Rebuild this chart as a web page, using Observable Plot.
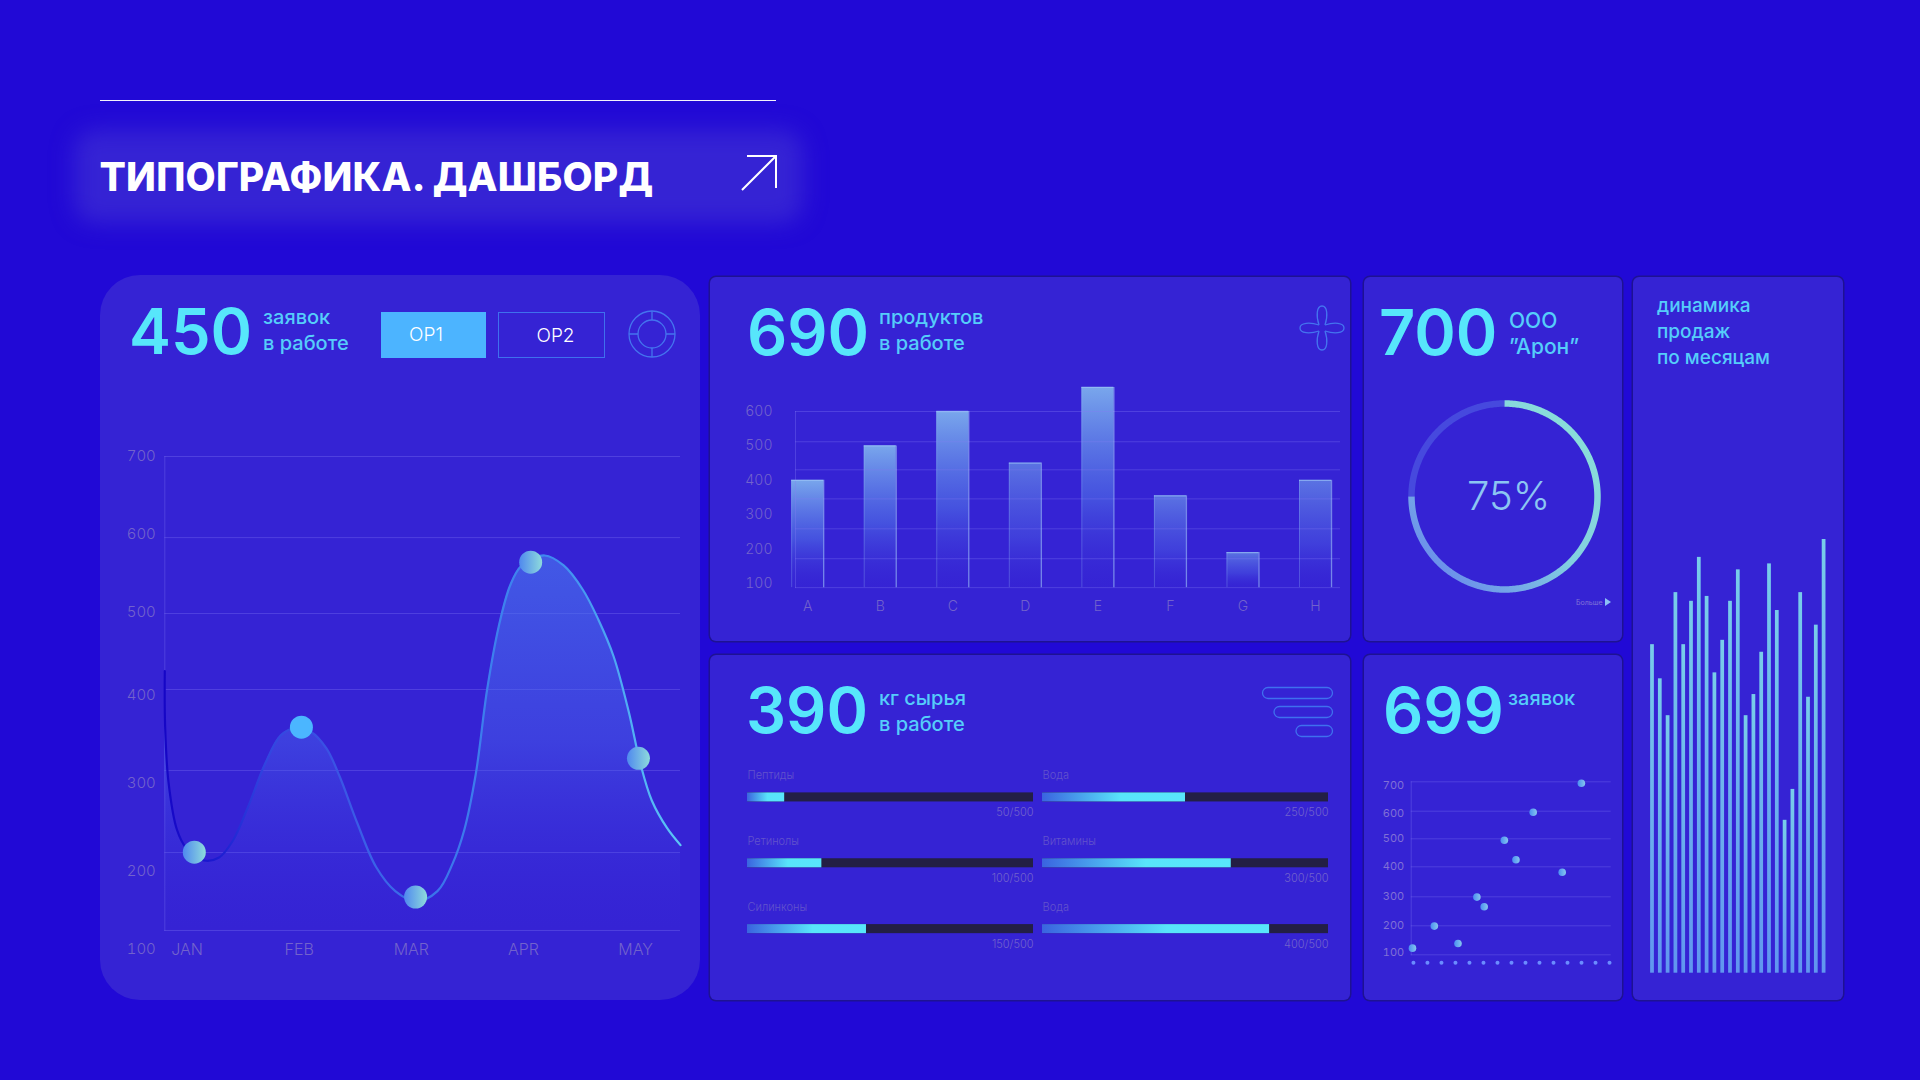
<!DOCTYPE html>
<html lang="ru">
<head>
<meta charset="utf-8">
<title>Типографика. Дашборд</title>
<script src="https://cdn.jsdelivr.net/npm/d3@7"></script>
<script src="https://cdn.jsdelivr.net/npm/@observablehq/plot@0.6"></script>
<style>
  html,body{margin:0;padding:0;background:#2109d6;}
  body{position:relative;width:1920px;height:1080px;overflow:hidden;font-family:Inter,Roboto,sans-serif;}
  .abs{position:absolute;}
  .panel{position:absolute;background:#3523d4;box-sizing:border-box;border-radius:6px;
         box-shadow:0 0 0 1.5px rgba(30,20,140,.9);}
  .t{position:absolute;white-space:nowrap;line-height:1;transform:translateY(-50%);}
  .big{font-size:63px;font-weight:600;color:#57e6fb;letter-spacing:0;}
  .sub{font-size:20px;font-weight:500;color:#55cdfa;}
  svg.plot-chart{position:absolute;overflow:visible;max-width:none;}
</style>
</head>
<body>
<svg width="0" height="0" style="position:absolute">
  <defs>
    <linearGradient id="curveStroke" x1="0" x2="1" y1="0" y2="0">
      <stop offset="0" stop-color="#1606c6"/><stop offset="0.1" stop-color="#1c1bd0"/>
      <stop offset="0.2" stop-color="#3246e0"/><stop offset="0.32" stop-color="#3a52e4"/>
      <stop offset="0.48" stop-color="#3a70ea"/><stop offset="0.75" stop-color="#3f8af0"/>
      <stop offset="1" stop-color="#5cc6f6"/>
    </linearGradient>
    <linearGradient id="curveFill" x1="0" x2="0" y1="0" y2="1">
      <stop offset="0" stop-color="#4a7af0" stop-opacity=".62"/>
      <stop offset="0.5" stop-color="#4a6ef0" stop-opacity=".38"/>
      <stop offset="1" stop-color="#3a35e0" stop-opacity="0"/>
    </linearGradient>
    <linearGradient id="dotFill" x1="0" x2="1" y1="0" y2="0">
      <stop offset="0" stop-color="#4f88ef"/><stop offset="1" stop-color="#8edbdc"/>
    </linearGradient>
    <linearGradient id="barBright" x1="0" x2="0" y1="0" y2="1">
      <stop offset="0" stop-color="#7fb2ee" stop-opacity=".92"/>
      <stop offset="0.55" stop-color="#4f6fe6" stop-opacity=".62"/>
      <stop offset="1" stop-color="#3a30d8" stop-opacity=".04"/>
    </linearGradient>
    <linearGradient id="barDim" x1="0" x2="0" y1="0" y2="1">
      <stop offset="0" stop-color="#5f7ce4" stop-opacity=".9"/>
      <stop offset="0.6" stop-color="#4650e0" stop-opacity=".62"/>
      <stop offset="1" stop-color="#3a30d8" stop-opacity=".04"/>
    </linearGradient>
    <linearGradient id="miniBar" x1="0" x2="0" y1="0" y2="1">
      <stop offset="0" stop-color="#78cdea"/><stop offset="1" stop-color="#6096f0"/>
    </linearGradient>
    <linearGradient id="progress" x1="0" x2="1" y1="0" y2="0">
      <stop offset="0" stop-color="#3a63e0"/><stop offset="0.55" stop-color="#58e4fa"/>
      <stop offset="1" stop-color="#58e6fb"/>
    </linearGradient>
    <linearGradient id="ringDone" x1="1" x2="0" y1="0" y2="1">
      <stop offset="0" stop-color="#8ce2d8"/><stop offset="0.5" stop-color="#82cfe0"/><stop offset="1" stop-color="#6379ef"/>
    </linearGradient>
    <linearGradient id="scatterDot" x1="0" x2="1" y1="0" y2="0">
      <stop offset="0" stop-color="#4a8ef2"/><stop offset="1" stop-color="#86c6ee"/>
    </linearGradient>
  </defs>
</svg>
<script>
// ---- Data ----
const months = ["JAN", "FEB", "MAR", "APR", "MAY"];
const monthIndex = [0, 1, 2, 3, 4];
const requestTicks = [100, 200, 300, 400, 500, 600, 700];
const requestGrid = [124.4, 221.6, 314.8, 407.2, 498.8, 596, 700];
const curveMonth = [-0.198,-0.195,-0.165,-0.089,-0.004,0.15,0.286,0.406,0.542,0.697,0.834,0.95,1.106,1.243,1.361,1.516,1.686,1.857,2.038,2.233,2.368,2.472,2.574,2.676,2.779,2.881,2.984,3.189,3.358,3.528,3.666,3.803,3.938,4.042,4.144,4.281,4.40];
const curveValue = [429.5,364.8,301.7,247.2,226.1,212.5,215.9,234.4,272.7,322.7,354.5,362.5,358.5,339.8,308,255.7,205.1,174.9,162,174.9,209,247.2,310.2,407.2,482.9,534.6,560.3,573.1,560.3,529.5,491.9,447.3,381.8,322.7,280.7,249.2,230];
const markerMonth = [0.065, 1.02, 2.038, 3.064, 4.025];
const markerValue = [221.9, 364, 167.3, 564.5, 328.6];

const productCats = ["A","B","C","D","E","F","G","H"];
const productValues = [400,500,600,450,670,355,190,400];
const productTicks = [100,200,300,400,500,600];
const productGrid = [88,172,259,346,430.5,512,600];

const ringShare = 75;

const rawLeftNames = ["Пептиды","Ретинолы","Силинконы"];
const rawLeftLabels = ["50/500","100/500","150/500"];
const rawLeftShown = [65,130,208];
const rawRightNames = ["Вода","Витамины","Вода"];
const rawRightLabels = ["250/500","300/500","400/500"];
const rawRightShown = [250,330,397];
const rawMax = 500;

const scatterTicks = [100,200,300,400,500,600,700];
const scatterX = [-0.07,1.49,3.18,4.53,5.05,6.49,7.32,8.55,10.62,11.99];
const scatterY = [123,199,139,299,265.5,495,425,596,382,695];
const scatterSlots = [0,1,2,3,4,5,6,7,8,9,10,11,12,13,14];

const salesValues = [606,543,475,702,606,686,767,695,554,614,686,744,475,514,592,755,669,282,339,702,509,642,800];

// ---- Page helpers ----
const GRID = "rgba(135,125,245,.33)";
const TICK = "#7262cc";
function panel(l,t,r,b,radius,noBorder){
  const d=document.createElement("div");d.className="panel";
  d.style.cssText=`left:${l}px;top:${t}px;width:${r-l}px;height:${b-t}px;`+(radius?`border-radius:${radius}px;`:"")+(noBorder?"box-shadow:none;":"");
  document.body.appendChild(d);
}
function text(s,x,y,cls,css){
  const d=document.createElement("div");d.className="t "+(cls||"");d.textContent=s;
  d.style.cssText=`left:${x}px;top:${y}px;`+(css||"");
  document.body.appendChild(d);return d;
}
function place(svg,l,t){
  svg.classList.add("plot-chart");
  svg.style.left=l+"px";svg.style.top=t+"px";
  document.body.appendChild(svg);
}
function icon(markup,l,t,w,h){
  const d=document.createElement("div");d.className="abs";
  d.style.cssText=`left:${l}px;top:${t}px;width:${w}px;height:${h}px;`;
  d.innerHTML=`<svg width="${w}" height="${h}" viewBox="0 0 ${w} ${h}" fill="none" style="display:block;overflow:visible">${markup}</svg>`;
  document.body.appendChild(d);
}

// ---- Header ----
const rule=document.createElement("div");rule.className="abs";
rule.style.cssText="left:100px;top:99.5px;width:676px;height:1.5px;background:#fff;opacity:.95";
document.body.appendChild(rule);
const glow=document.createElement("div");glow.className="abs";
glow.style.cssText="left:74px;top:130px;width:729px;height:93px;background:#3523d4;border-radius:22px;filter:blur(11px)";
document.body.appendChild(glow);
text("ТИПОГРАФИКА. ДАШБОРД",99.5,176,"","font-size:39px;font-weight:800;color:#fff;letter-spacing:.2px;");
icon('<path d="M1 35 L35 1 M6 1 H35 V33" stroke="#fff" stroke-width="2"/>',741,155,36,36);

// ---- Panels ----
panel(100,275,700,1000,40,true);
panel(710,277,1350,641);
panel(1364,277,1622,641);
panel(1633,277,1843,1000);
panel(710,655,1350,1000);
panel(1364,655,1622,1000);

// ---- Panel 1: requests ----
text("450",129,331,"big");
text("заявок",263,317,"sub");
text("в работе",263,343,"sub");
text("OP1",381,335,"","width:105px;text-align:center;height:46px;line-height:46px;background:#4cb4ff;color:#fff;font-size:19px;font-weight:300;padding-right:15px;box-sizing:border-box;");
text("OP2",498,335,"","width:107px;text-align:center;height:46px;line-height:46px;box-sizing:border-box;border:1.5px solid #3f70ee;color:#fff;font-size:19px;font-weight:300;padding-left:8px;");
icon('<g stroke="#4474ef" stroke-width="1.3"><circle cx="24" cy="24" r="23"/><circle cx="24" cy="24" r="14"/><path d="M24 1V10M24 38V47M1 24H10M38 24H47"/></g>',628,310,48,48);

const curve = curveMonth.map((m,i)=>({m,v:curveValue[i]}));
const markers = markerMonth.map((m,i)=>({m,v:markerValue[i],solid:months[i]==="FEB"}));
place(Plot.plot({
  width:600,height:725,
  marginLeft:64.3,marginRight:20,marginTop:181,marginBottom:70,
  x:{domain:[-0.198,4.40],range:[64.3,580],axis:null},
  y:{type:"linear",domain:requestTicks,range:[674,596,508,420,337,259,181],axis:null},
  style:{background:"transparent",fontFamily:"Inter,Roboto,sans-serif"},
  marks:[
    Plot.ruleY(requestGrid,{stroke:GRID,strokeWidth:1}),
    Plot.frame({anchor:"left",stroke:GRID,strokeWidth:1}),
    Plot.areaY(curve,{x:"m",y1:()=>requestGrid[0],y2:"v",curve:"catmull-rom",fill:"url(#curveFill)"}),
    Plot.line(curve,{x:"m",y:"v",curve:"catmull-rom",stroke:"url(#curveStroke)",strokeWidth:2.2}),
    Plot.dot(markers,{x:"m",y:"v",r:11.5,fill:{value:d=>d.solid?"#4bb6ff":"url(#dotFill)",scale:null},stroke:"none"}),
    Plot.axisY(requestTicks,{anchor:"left",tickSize:0,tickPadding:9,label:null,fontSize:15,fontWeight:300,fill:TICK}),
    Plot.axisX(monthIndex,{anchor:"bottom",tickSize:0,tickPadding:13.5,label:null,tickFormat:i=>months[i],fontSize:16,fontWeight:300,fill:TICK})
  ]
}),100,275);

// ---- Panel 2: products ----
text("690",747,332,"big");
text("продуктов",879,317,"sub");
text("в работе",879,343,"sub");
icon([0,90,180,270].map(a=>`<path transform="translate(24 24) rotate(${a})" d="M-3 -3 C-6 -12 -5.5 -22 0 -22 C5.5 -22 6 -12 3 -3" stroke="#4474ef" stroke-width="1.3"/>`).join(""),1298,304,48,48);

const products = productCats.map((c,i)=>({c,v:productValues[i]}));
const dimCats = new Set(["D","F","G","H"]);
const EDGE = "#9cc4f7";
place(Plot.plot({
  width:640,height:364,
  marginLeft:85,marginRight:10,marginTop:134,marginBottom:54,
  x:{type:"band",domain:productCats,range:[60.9,641.3],paddingInner:.559,paddingOuter:.2795,round:false,axis:null},
  y:{domain:[100,600],range:[306,134],axis:null},
  style:{background:"transparent",fontFamily:"Inter,Roboto,sans-serif"},
  marks:[
    Plot.barY(products,{x:"c",y1:()=>productGrid[0],y2:"v",
      fill:{value:d=>dimCats.has(d.c)?"url(#barDim)":"url(#barBright)",scale:null}}),
    Plot.ruleY(productGrid,{stroke:GRID,strokeWidth:1}),
    Plot.frame({anchor:"left",stroke:GRID,strokeWidth:1}),
    Plot.ruleX(products,{x:"c",y1:()=>productGrid[0],y2:"v",dx:-16,stroke:EDGE,strokeOpacity:.28,strokeWidth:1}),
    Plot.ruleX(products,{x:"c",y1:()=>productGrid[0],y2:"v",dx:16,stroke:EDGE,strokeOpacity:.62,strokeWidth:1.3}),
    Plot.tickY(products,{x:"c",y:"v",stroke:EDGE,strokeOpacity:.65,strokeWidth:1.3}),
    Plot.axisY(productTicks,{anchor:"left",tickSize:0,tickPadding:23,label:null,fontSize:14,fontWeight:300,fill:TICK}),
    Plot.axisX(productCats,{anchor:"bottom",tickSize:0,tickPadding:13.5,label:null,fontSize:14,fontWeight:300,fill:TICK})
  ]
}),710,277);

// ---- Panel 3: ring ----
text("700",1379,332,"big");
text("ООО",1509,320,"sub","font-size:21px;");
text("”Арон”",1509,346,"sub","font-size:21px;");
const share = s => s/100*2*Math.PI;
const doneSteps = d3.range(0,ringShare+.25,.25);
const restSteps = d3.range(ringShare,100.25,.25);
place(Plot.plot({
  width:220,height:220,margin:18,
  x:{domain:[-1,1],range:[17,203],axis:null},
  y:{domain:[-1,1],range:[203,17],axis:null},
  style:{background:"transparent",fontFamily:"Inter,Roboto,sans-serif"},
  marks:[
    Plot.line(restSteps,{x:s=>Math.sin(share(s)),y:s=>Math.cos(share(s)),stroke:"#4649de",strokeWidth:6.5,strokeLinecap:"butt"}),
    Plot.line(doneSteps,{x:s=>Math.sin(share(s)),y:s=>Math.cos(share(s)),stroke:"url(#ringDone)",strokeWidth:6.5,strokeLinecap:"butt"}),
    Plot.text([ringShare+"%"],{x:()=>0,y:()=>0,text:d=>d,dx:4,dy:1,fontSize:40,fontWeight:300,fill:"#8cc6f2",textAnchor:"middle",lineAnchor:"middle"})
  ]
}),1394,386);
text("Больше",1576,602,"","font-size:7px;color:#8273d8;");
icon('<path d="M0 0 L6 4 L0 8 Z" fill="#8cc0f5"/>',1605,598,6,8);

// ---- Panel 4: sales ----
text("динамика",1657,305,"sub","font-size:19px;");
text("продаж",1657,331,"sub","font-size:19px;");
text("по месяцам",1657,357,"sub","font-size:19px;");
const salesIndex = salesValues.map((_,i)=>i);
place(Plot.plot({
  width:210,height:460,margin:0,
  x:{type:"band",domain:salesIndex,range:[15.1,194.5],paddingInner:.52,paddingOuter:.26,round:false,axis:null},
  y:{domain:[0,800],range:[439.7,6],axis:null},
  style:{background:"transparent"},
  marks:[
    Plot.barY(salesIndex,{x:d=>d,y:i=>salesValues[i],fill:"url(#miniBar)"})
  ]
}),1633,533);

// ---- Panel 5: raw material ----
text("390",746,710,"big");
text("кг сырья",879,698,"sub");
text("в работе",879,724,"sub");
icon('<g stroke="#3f70ee" stroke-width="1.3"><rect x="0.5" y="0.5" width="70" height="11" rx="5.5"/><rect x="12" y="19.5" width="58.5" height="11" rx="5.5"/><rect x="34" y="38.5" width="36.5" height="11" rx="5.5"/></g>',1262,687,71,50);

function progress(names,labels,shown,left){
  const rows = names.map((n,i)=>({row:i,n,l:labels[i],v:shown[i]}));
  place(Plot.plot({
    width:286,height:198,margin:0,
    x:{domain:[0,rawMax],range:[0,286],axis:null},
    y:{type:"band",domain:[0,1,2],range:[0,197.55],padding:0,round:false,axis:null},
    style:{background:"transparent",fontFamily:"Inter,Roboto,sans-serif"},
    marks:[
      Plot.barX(rows,{x1:()=>0,x2:()=>rawMax,y:"row",insetTop:28.4,insetBottom:28.4,fill:"#231f45"}),
      Plot.barX(rows,{x1:()=>0,x2:"v",y:"row",insetTop:28.4,insetBottom:28.4,fill:"url(#progress)"}),
      Plot.text(rows,{x:()=>0,y:"row",text:"n",dy:-21.5,textAnchor:"start",fontSize:11,fontWeight:300,fill:"#6353cc"}),
      Plot.text(rows,{x:()=>rawMax,y:"row",text:"l",dy:15.5,textAnchor:"end",fontSize:11,fontWeight:300,fill:"#7262cc"})
    ]
  }),left,764);
}
progress(rawLeftNames,rawLeftLabels,rawLeftShown,747);
progress(rawRightNames,rawRightLabels,rawRightShown,1042);

// ---- Panel 6: scatter ----
text("699",1383,710,"big");
text("заявок",1508,698,"sub");
const scatter = scatterX.map((x,i)=>({x,y:scatterY[i]}));
const scatterNudge = new Map([[700,4],[600,2],[100,-2]]);
place(Plot.plot({
  width:258,height:200,
  marginLeft:47.7,marginRight:10.3,marginTop:11.3,marginBottom:15.7,
  x:{domain:[-0.16,14.12],range:[47.7,247.7],axis:null},
  y:{type:"linear",domain:scatterTicks,range:[184.3,155.3,126.3,96.3,68.3,40.7,11.3],axis:null},
  style:{background:"transparent",fontFamily:"Inter,Roboto,sans-serif"},
  marks:[
    Plot.ruleY(scatterTicks,{stroke:GRID,strokeWidth:1}),
    Plot.frame({anchor:"left",stroke:GRID,strokeWidth:1}),
    Plot.dot(scatterSlots,{x:d=>d,y:()=>73,r:2,fill:"#6a8cff",stroke:"none"}),
    Plot.dot(scatter,{x:"x",y:"y",r:3.8,fill:"url(#scatterDot)",stroke:"none"}),
    ...scatterTicks.map(t=>Plot.axisY([t],{anchor:"left",tickSize:0,tickPadding:7,dy:scatterNudge.get(t)||0,label:null,fontSize:11,fontWeight:400,fill:"#8070d6"}))
  ]
}),1363,770);
</script>
</body>
</html>
